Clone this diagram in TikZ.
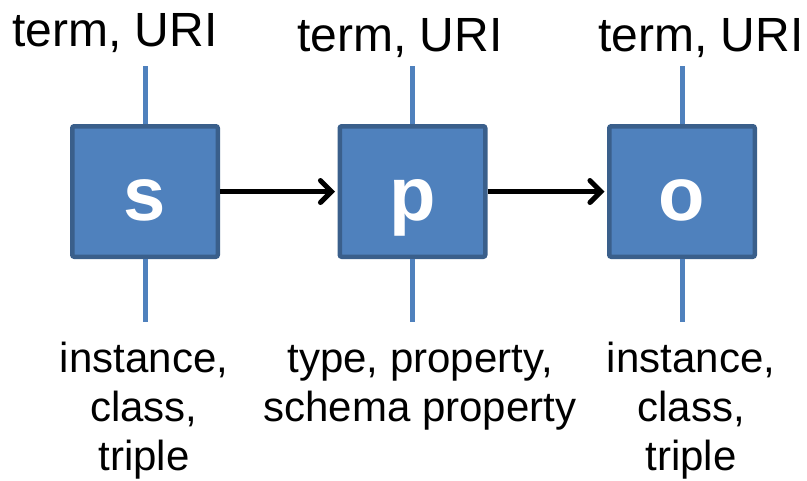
\documentclass[tikz,border=0pt]{standalone}
\usepackage{fontspec}
\setmainfont{Liberation Sans}
\usetikzlibrary{arrows.meta}
\definecolor{boxfill}{HTML}{4F81BD}
\definecolor{boxline}{HTML}{3A5F8B}
\begin{document}
\begin{tikzpicture}[x=1pt,y=-1pt,
  tripbox/.style={draw=boxline, fill=boxfill, line width=4.5pt, rounded corners=2pt,
    minimum width=145.5pt, minimum height=130.5pt, inner sep=0pt,
    text height=57pt, text depth=0pt,
    text=white, font=\bfseries\fontsize{76}{80}\selectfont},
  stem/.style={draw=boxfill, line width=5pt},
  link/.style={draw=black, line width=5pt,
    -{Straight Barb[length=11pt,width=22pt,line cap=round]}, shorten >=2.5pt},
  toplabel/.style={anchor=base, inner sep=0pt, font=\fontsize{48}{56}\selectfont},
  botlabel/.style={anchor=base, inner sep=0pt, align=center,
    font=\fontsize{42}{49}\selectfont}]
  \useasboundingbox (0,0) rectangle (807,480);

  % subject, predicate, object boxes
  \node[tripbox] (s) at (145,191.5) {s};
  \node[tripbox] (p) at (412.5,191.5) {p};
  \node[tripbox] (o) at (682,191.5) {o};

  % stems above and below each box
  \coordinate (st) at (145,66);  \coordinate (sb) at (145,322);
  \coordinate (pt) at (412.5,66); \coordinate (pb) at (412.5,322);
  \coordinate (ot) at (682,66);  \coordinate (ob) at (682,322);
  \draw[stem] (st) -- (s.north);  \draw[stem] (s.south) -- (sb);
  \draw[stem] (pt) -- (p.north);  \draw[stem] (p.south) -- (pb);
  \draw[stem] (ot) -- (o.north);  \draw[stem] (o.south) -- (ob);

  % s -> p -> o
  \draw[link] (s.east) -- (p.west);
  \draw[link] (p.east) -- (o.west);

  % labels above
  \node[toplabel] (slab) at (115,46) {term, URI};
  \node[toplabel] (plab) at (400,51) {term, URI};
  \node[toplabel] (olab) at (701,51) {term, URI};

  % labels below (anchored on the baseline of their last line)
  \node[botlabel] (sdesc) at (144,470) {instance,\\class,\\triple};
  \node[botlabel] (pdesc) at (420,421) {type, property,\\schema property};
  \node[botlabel] (odesc) at (691,470) {instance,\\class,\\triple};
\end{tikzpicture}
\end{document}
